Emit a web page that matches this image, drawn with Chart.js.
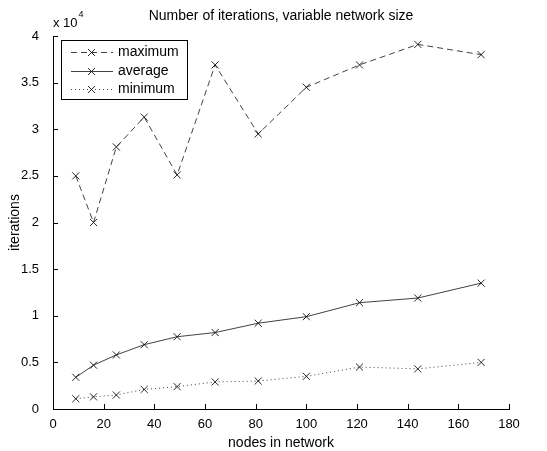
<!DOCTYPE html>
<html>
<head>
<meta charset="utf-8">
<script src="https://cdn.jsdelivr.net/npm/chart.js@4"></script>
<style>
  html, body { margin: 0; padding: 0; background: #fff; }
  #wrap { width: 547px; height: 451px; }
</style>
</head>
<body>
<div id="wrap"><canvas id="chart"></canvas></div>
<script>
// data
const nodes = [9, 16, 25, 36, 49, 64, 81, 100, 121, 144, 169];
const maximum = [25000, 20000, 28100, 31300, 25100, 36900, 29500, 34500, 36900, 39100, 38000];
const average = [3400, 4700, 5800, 6900, 7750, 8200, 9200, 9900, 11400, 11900, 13500];
const minimum = [1100, 1300, 1500, 2100, 2400, 2900, 3000, 3500, 4500, 4300, 5000];
const seriesNames = ["maximum", "average", "minimum"];
const xTicks = [0, 20, 40, 60, 80, 100, 120, 140, 160, 180];
const yTicks = [0, 5000, 10000, 15000, 20000, 25000, 30000, 35000, 40000];

const FONT = "'Liberation Sans', Arial, sans-serif";
const INK = "#000";
const dashes = [[6, 4], [], [1, 3]];

function points(ys) {
  return nodes.map((x, i) => ({ x: x, y: ys[i] }));
}

function makeSet(label, ys, dash) {
  return {
    label: label,
    data: points(ys),
    borderColor: "#111",
    borderWidth: 0.8,
    borderDash: dash,
    pointStyle: "crossRot",
    pointRadius: 5,
    pointBorderWidth: 0.9,
    pointBorderColor: "#111",
    pointBackgroundColor: "#111",
    fill: false,
    tension: 0
  };
}

// MATLAB style: inward ticks, title, exponent, axis labels, legend box
const decor = {
  id: "decor",
  afterDraw(chart) {
    const ctx = chart.ctx;
    const area = chart.chartArea;
    const xs = chart.scales.x;
    const ys = chart.scales.y;
    ctx.save();
    ctx.strokeStyle = INK;
    ctx.lineWidth = 1;
    ctx.beginPath();
    xTicks.forEach(v => {
      const px = Math.round(xs.getPixelForValue(v)) + 0.5;
      ctx.moveTo(px, area.bottom);
      ctx.lineTo(px, area.bottom - 5);
    });
    yTicks.forEach(v => {
      const py = Math.round(ys.getPixelForValue(v)) + 0.5;
      ctx.moveTo(area.left, py);
      ctx.lineTo(area.left + 5, py);
    });
    ctx.stroke();

    ctx.fillStyle = INK;
    ctx.font = "14px " + FONT;
    ctx.textAlign = "center";
    ctx.textBaseline = "middle";
    ctx.fillText("Number of iterations, variable network size", (area.left + area.right) / 2, 16);
    ctx.fillText("nodes in network", (area.left + area.right) / 2, 443);

    ctx.save();
    ctx.translate(15, (area.top + area.bottom) / 2);
    ctx.rotate(-Math.PI / 2);
    ctx.fillText("iterations", 0, 0);
    ctx.restore();

    // exponent
    ctx.textAlign = "left";
    ctx.font = "13px " + FONT;
    ctx.fillText("x 10", area.left, 23);
    const w = ctx.measureText("x 10").width;
    ctx.font = "9px " + FONT;
    ctx.fillText("4", area.left + w + 1, 15);

    // legend
    const lx = 61, ly = 40, lw = 126, lh = 59;
    ctx.fillStyle = "#fff";
    ctx.fillRect(lx, ly, lw, lh);
    ctx.strokeStyle = INK;
    ctx.lineWidth = 1;
    ctx.strokeRect(lx + 0.5, ly + 0.5, lw, lh);
    const rowY = [52, 71, 89];
    chart.data.datasets.forEach((ds, i) => {
      const y = rowY[i] + 0.5;
      ctx.strokeStyle = "#111";
      ctx.lineWidth = 0.8;
      ctx.setLineDash(dashes[i]);
      ctx.beginPath();
      ctx.moveTo(71, y);
      ctx.lineTo(113, y);
      ctx.stroke();
      ctx.setLineDash([]);
      ctx.lineWidth = 0.9;
      ctx.beginPath();
      ctx.moveTo(88, y - 3.5); ctx.lineTo(95, y + 3.5);
      ctx.moveTo(95, y - 3.5); ctx.lineTo(88, y + 3.5);
      ctx.stroke();
      ctx.fillStyle = INK;
      ctx.font = "14px " + FONT;
      ctx.textAlign = "left";
      ctx.fillText(ds.label, 118, y);
    });
    ctx.restore();
  }
};

new Chart(document.getElementById("chart"), {
  type: "line",
  data: {
    datasets: [
      makeSet(seriesNames[0], maximum, dashes[0]),
      makeSet(seriesNames[1], average, dashes[1]),
      makeSet(seriesNames[2], minimum, dashes[2])
    ]
  },
  options: {
    responsive: true,
    maintainAspectRatio: false,
    animation: false,
    events: [],
    layout: { padding: { left: 0, top: 36, right: 38, bottom: 0 } },
    plugins: {
      legend: { display: false },
      title: { display: false },
      tooltip: { enabled: false }
    },
    scales: {
      x: {
        type: "linear",
        min: 0,
        max: 180,
        afterFit(s) { s.height = 42; },
        afterBuildTicks(s) { s.ticks = xTicks.map(v => ({ value: v })); },
        grid: { display: false },
        border: { display: true, color: INK, width: 1 },
        ticks: { color: INK, padding: 0, font: { family: FONT, size: 13 }, maxRotation: 0, autoSkip: false }
      },
      y: {
        type: "linear",
        min: 0,
        max: 40000,
        afterFit(s) { s.width = 53; },
        afterBuildTicks(s) { s.ticks = yTicks.map(v => ({ value: v })); },
        grid: { display: false },
        border: { display: true, color: INK, width: 1 },
        ticks: {
          color: INK,
          padding: 6,
          font: { family: FONT, size: 13 },
          autoSkip: false,
          callback: v => String(v / 10000)
        }
      }
    }
  },
  plugins: [decor]
});
</script>
</body>
</html>
